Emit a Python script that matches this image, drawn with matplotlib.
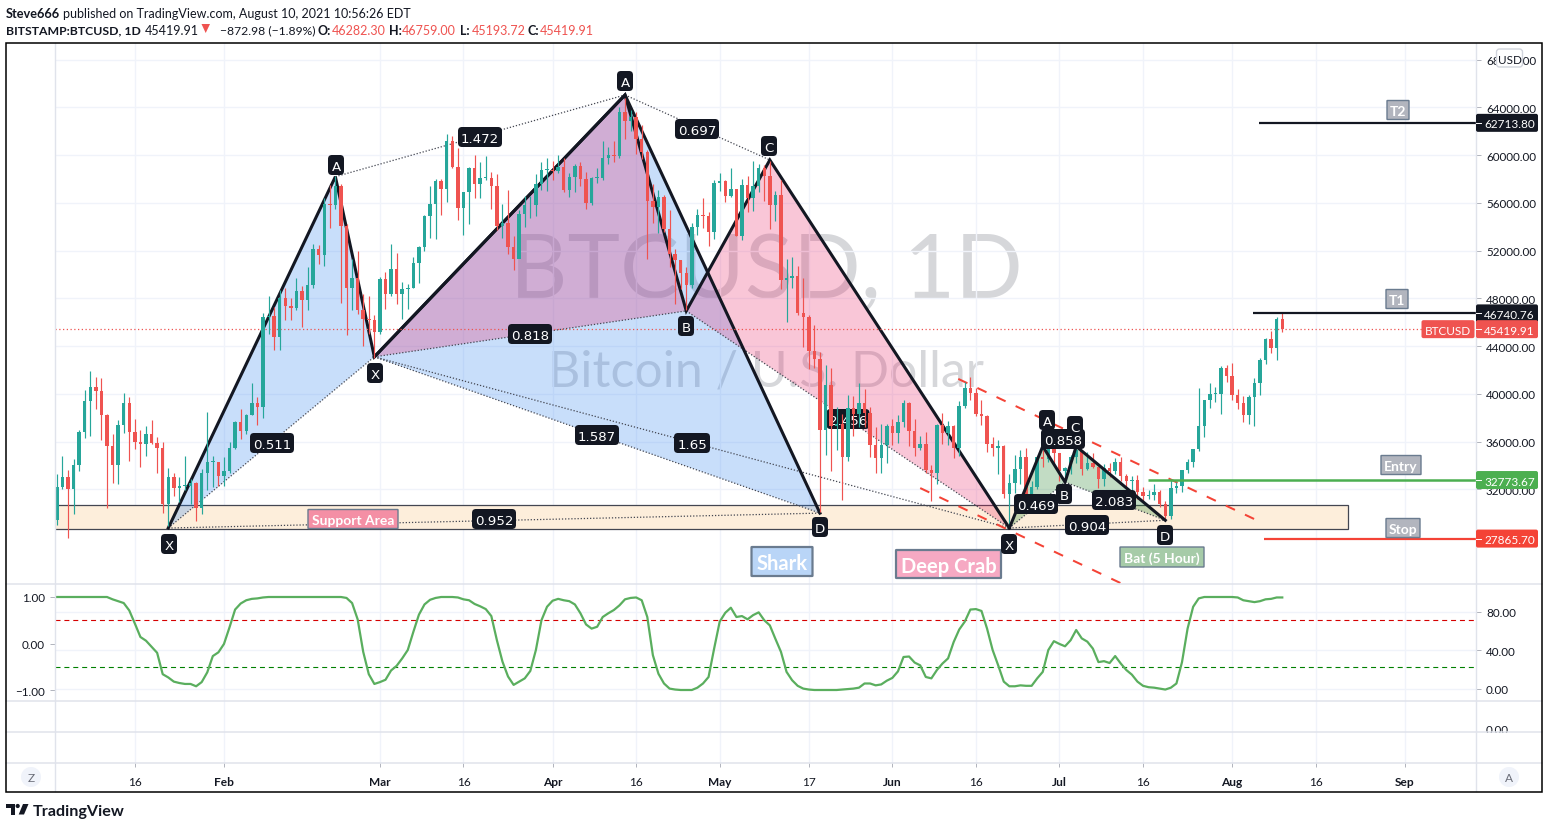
import numpy as np
import pandas as pd
import matplotlib
matplotlib.use("Agg")
import matplotlib.pyplot as plt
import matplotlib.dates as mdates
from matplotlib.patches import FancyBboxPatch, Rectangle, Polygon, Circle

W, H = 1549, 829
FONT = "Lato"
MONO = "DejaVu Sans"
plt.rcParams["font.family"] = FONT

# ---------------- data (thousands of USD) ----------------
first_date = "2021-01-02"
first_open = 29.4
closes = [
 32.2,33.0,32.0,34.0,36.8,39.4,40.6,40.2,38.2,35.6,34.0,37.4,39.2,36.8,36.0,35.8,36.6,35.9,35.5,30.8,33.0,32.1,32.3,32.3,32.5,30.4,33.4,34.3,34.3,33.1,
 33.5,35.5,37.6,36.9,38.2,39.2,38.9,46.4,46.5,44.8,48.0,47.4,47.2,48.6,47.9,49.1,52.1,51.6,55.9,55.8,57.4,54.1,48.9,49.7,47.0,46.3,46.2,45.2,
 49.6,48.4,50.5,48.4,48.8,48.9,51.0,52.3,54.9,55.9,57.8,57.2,61.2,59.0,55.6,56.9,58.9,57.6,58.1,58.1,57.4,54.1,54.3,52.3,51.3,55.1,55.8,55.8,57.6,58.8,58.8,
 58.7,59.0,57.1,58.2,59.1,58.0,56.0,58.1,58.1,59.8,60.0,59.9,63.6,62.9,63.2,61.4,60.3,56.2,55.7,56.5,53.8,51.7,51.2,50.1,49.1,54.0,55.0,54.9,53.6,57.7,
 57.8,56.6,57.2,53.2,57.5,56.4,57.4,58.9,58.3,55.8,56.7,49.5,49.7,49.9,46.8,46.4,43.6,42.9,37.0,40.7,37.3,37.5,34.7,38.8,38.3,39.2,38.4,35.7,34.6,35.7,37.3,
 36.7,37.6,39.2,36.9,35.5,35.8,33.6,33.4,37.4,36.7,37.3,35.5,39.0,40.5,40.1,38.3,38.1,35.8,35.5,35.6,31.6,32.5,33.7,34.7,31.6,32.2,34.7,34.5,35.9,35.0,
 33.5,33.8,34.7,35.3,33.7,34.2,33.9,32.9,33.8,33.5,34.3,33.1,32.7,32.8,31.8,31.4,31.5,31.8,30.8,29.8,32.1,32.3,33.6,34.3,35.4,37.3,39.5,40.0,40.0,42.2,41.5,
 39.9,39.2,38.2,39.7,40.9,42.8,44.6,43.8,46.3,45.42]
highs = [
 33.3,34.8,33.6,34.5,37.0,40.3,41.9,41.4,41.3,38.3,36.6,37.8,40.1,39.7,37.9,37.0,37.3,37.8,36.4,36.0,33.8,33.4,33.0,34.8,32.9,32.6,33.7,38.5,34.8,34.3,
 34.7,36.0,37.7,38.7,38.3,40.9,39.7,46.8,48.2,47.3,48.7,48.9,48.0,49.7,49.0,50.6,52.6,52.5,56.4,57.5,58.3,57.6,54.2,51.3,52.0,48.4,48.2,46.6,
 49.8,50.2,52.6,51.8,49.4,49.2,51.5,52.4,55.0,57.4,58.0,58.0,61.8,61.6,60.6,56.9,59.0,60.0,59.4,59.9,58.6,58.4,55.9,57.1,53.2,55.4,56.6,56.6,58.4,59.4,59.8,
 59.5,60.0,59.8,58.5,59.3,59.4,58.6,58.2,58.9,61.2,60.7,61.2,64.0,64.8,63.8,63.6,62.5,60.4,57.6,57.1,56.7,55.4,52.1,51.2,50.6,54.3,55.5,56.4,55.2,57.9,
 58.5,57.9,58.9,57.2,58.0,58.3,59.5,59.3,59.2,59.5,57.0,57.9,51.3,51.5,50.7,49.7,46.6,45.8,43.5,42.4,42.2,38.9,38.3,39.9,39.8,40.9,40.4,38.9,37.2,37.5,37.5,
 37.9,38.2,39.5,39.3,37.9,36.5,36.8,34.0,37.5,38.4,37.7,37.4,39.4,41.0,41.4,40.5,39.5,38.2,36.4,36.1,35.7,33.3,34.9,35.3,35.5,32.7,34.7,35.3,36.6,36.0,
 35.0,33.9,34.9,35.9,35.3,35.1,35.0,33.9,34.1,34.2,34.6,34.7,33.3,33.1,33.2,32.2,31.9,32.4,31.9,31.0,32.8,32.6,33.6,34.5,35.4,40.5,39.5,40.9,40.6,42.3,42.4,
 42.6,40.4,39.8,39.9,41.3,43.0,44.7,45.3,46.4,46.76]
lows = [
 29.0,32.0,27.9,29.9,33.5,36.3,36.5,38.7,36.1,30.4,32.5,32.4,36.7,34.4,35.4,33.9,34.8,35.8,33.4,30.0,28.9,31.4,30.9,31.9,30.8,29.3,29.9,31.9,32.2,32.3,
 32.3,33.4,35.4,36.2,36.6,38.2,37.4,38.0,45.0,43.7,43.7,46.2,46.2,47.0,45.6,47.0,48.9,50.9,50.7,53.9,55.5,47.6,44.9,47.0,46.7,44.0,45.0,43.0,
 45.0,47.1,48.2,47.5,46.3,47.1,48.9,49.3,52.0,53.1,53.0,55.0,56.1,58.9,54.6,53.3,54.2,56.4,56.4,57.9,55.5,53.7,53.1,51.7,50.4,51.4,54.0,54.7,54.9,57.1,57.0,
 57.9,58.5,56.9,56.5,56.9,57.4,55.5,55.8,57.7,57.9,59.3,59.4,59.8,61.4,62.0,60.1,59.7,51.3,54.3,53.5,53.6,50.6,47.5,48.8,47.0,48.9,53.3,53.9,52.4,53.0,
 57.0,56.1,56.5,53.2,52.9,55.2,55.3,56.9,56.2,53.8,54.5,48.8,46.0,48.9,46.6,43.9,42.1,42.2,30.1,34.9,33.5,35.3,31.1,34.4,36.5,37.2,37.2,34.7,33.4,33.4,34.2,
 35.7,35.9,37.2,35.6,34.8,35.3,33.4,31.0,32.4,35.8,35.7,34.6,34.8,38.8,39.5,38.1,37.4,35.1,34.8,33.3,31.3,28.8,31.7,32.4,31.3,30.2,32.0,33.9,34.3,34.0,
 32.7,32.7,33.3,34.2,33.2,33.6,33.8,32.1,32.3,33.0,33.3,32.7,32.2,31.6,31.2,31.0,31.2,31.1,30.5,29.3,29.5,31.7,31.8,33.4,33.9,35.2,36.4,38.8,39.3,38.3,41.0,
 39.5,38.7,37.6,37.5,37.3,39.9,42.5,43.4,42.8,45.2]
oscillator = [
 1.0,1.0,1.0,1.0,1.0,1.0,1.0,1.0,1.0,1.0,1.0,.95,.91,.87,.71,.43,.14,.06,-.07,-.2,-.66,-.73,-.82,-.85,-.87,-.87,-.92,-.83,-.62,-.27,-.19,
 -.01,.35,.73,.86,.93,.96,.97,.99,1.0,1.0,1.0,1.0,1.0,1.0,1.0,1.0,1.0,1.0,1.0,1.0,1.0,1.0,.98,.87,.52,-.18,-.66,-.87,
 -.83,-.78,-.58,-.48,-.32,-.14,.25,.62,.84,.94,.98,1.0,1.0,1.0,.99,.95,.93,.85,.8,.74,.59,.07,-.39,-.71,-.89,-.82,
 -.75,-.59,-.14,.50,.79,.92,.96,.93,.91,.84,.65,.41,.32,.36,.57,.65,.72,.82,.95,.98,.99,.93,.57,-.25,-.65,-.86,-.97,-.99,-1.0,-1.0,-1.0,
 -.95,-.86,-.72,-.11,.47,.66,.77,.57,.59,.52,.61,.67,.50,.39,.10,-.18,-.61,-.79,-.91,-.97,-.99,-1.0,-1.0,-1.0,-1.0,-1.0,-.99,-.98,-.97,-.95,
 -.86,-.86,-.90,-.88,-.80,-.74,-.60,-.29,-.28,-.41,-.47,-.72,-.75,-.57,-.43,-.32,.03,.30,.47,.73,.74,.70,.32,-.14,-.47,-.82,-.92,-.92,-.90,-.91,-.91,-.75,-.61,
 -.14,.05,-.01,-.06,.07,.29,.11,.04,-.11,-.40,-.38,-.42,-.27,-.43,-.57,-.67,-.82,-.91,-.94,-.95,-.97,-.99,-.95,-.86,-.40,.32,.79,.97,1.0,1.0,1.0,1.0,1.0,1.0,
 .99,.93,.91,.89,.91,.95,.96,.99,.99]

shark_dates = ["2021-01-22", "2021-02-21", "2021-02-28", "2021-04-14", "2021-05-19"]
shark_prices = [28.75, 58.2, 43.1, 65.05, 30.0]
crab_dates = ["2021-02-28", "2021-04-14", "2021-04-25", "2021-05-10", "2021-06-22"]
crab_prices = [43.1, 65.05, 46.95, 59.6, 28.75]
bat_dates = ["2021-06-22", "2021-06-28", "2021-07-02", "2021-07-04", "2021-07-20"]
bat_prices = [28.75, 35.6, 32.6, 35.6, 29.4]

support_low, support_high = 28.63, 30.72
support_dates = ["2020-12-20", "2021-08-21 20:00"]
upper_trend_dates = ["2021-06-12 20:00", "2021-08-05 16:00"]
upper_trend_prices = [41.25, 29.35]
lower_trend_dates = ["2021-06-06", "2021-08-01"]
lower_trend_prices = [32.1, 19.7]

last_price = 45419.91
t2_price, t1_price, entry_price, stop_price = 62713.80, 46740.76, 32773.67, 27865.70
t2_start, t1_start, entry_start, stop_start = "2021-08-05 20:00", "2021-08-04 16:00", "2021-07-16 22:00", "2021-08-06 16:00"

price_ticks = list(range(32000, 68001, 4000))
time_ticks = ["2021-01-16", "2021-02-01", "2021-03-01", "2021-03-16", "2021-04-01", "2021-04-16", "2021-05-01",
              "2021-05-17", "2021-06-01", "2021-06-16", "2021-07-01", "2021-07-16", "2021-08-01", "2021-08-16", "2021-09-01"]
time_labels = ["16", "Feb", "Mar", "16", "Apr", "16", "May", "17", "Jun", "16", "Jul", "16", "Aug", "16", "Sep"]
osc_left_ticks = [1.0, 0.0, -1.0]
osc_right_ticks = [80, 40, 0]

# ---------------- colours ----------------
UP, DOWN = "#26a69a", "#ef5350"
INK = "#131722"
GRID = "#f0f3fa"
SEP = "#e0e3eb"

d2n = lambda s: mdates.date2num(pd.to_datetime(s))
dates = pd.date_range(first_date, periods=len(closes), freq="D")
xs = mdates.date2num(dates)
c = np.array(closes) * 1000
h = np.array(highs) * 1000
l = np.array(lows) * 1000
o = np.r_[first_open * 1000, c[:-1]]

x0 = d2n("2021-01-01")
xlim = (x0 + (55 - 51.3) / 5.57, x0 + (1476 - 51.3) / 5.57)

fig = plt.figure(figsize=(W / 100, H / 100), dpi=100, facecolor="white")


def pane(x1, y1, x2, y2):
    return fig.add_axes([x1 / W, 1 - y2 / H, (x2 - x1) / W, (y2 - y1) / H])


ax = pane(55, 44, 1476, 585)
ax2 = pane(55, 585, 1476, 702)
ax3 = pane(55, 702, 1476, 733)
ax4 = pane(55, 733, 1476, 764)
ax5 = pane(55, 764, 1476, 792)
ov = fig.add_axes([0, 0, 1, 1], zorder=20)
ov.set_xlim(0, W)
ov.set_ylim(H, 0)
ov.axis("off")
ov.patch.set_alpha(0)
PX = ov.transData

for a in (ax, ax2, ax3, ax4, ax5):
    a.set_xlim(*xlim)
    for s in a.spines.values():
        s.set_visible(False)
    a.set_xticks([d2n(t) for t in time_ticks])
    a.grid(True, axis="x", color=GRID, lw=1)
    a.set_axisbelow(True)
    a.tick_params(axis="x", length=0, labelbottom=False)
    a.set_yticks([])

# ---------------- main pane ----------------
p_per_px = 1 / 0.01193
ax.set_ylim(64000 - (585 - 108.5) * p_per_px, 64000 + (108.5 - 44) * p_per_px)
ax.yaxis.tick_right()
ax.set_yticks(price_ticks)
ax.set_yticklabels([f"{t:.2f}" for t in price_ticks])
ax.grid(True, axis="y", color=GRID, lw=1)
ax.tick_params(axis="y", length=3.6, width=0.72, color="#b2b5be", pad=3.6, labelsize=8.4, labelcolor=INK)

ov_wm = dict(transform=PX, color="#787b86", alpha=0.3, ha="center", va="center", zorder=0.5, family=FONT)
ax.text(766, 273, "BTCUSD, 1D", fontsize=64, clip_on=False, **ov_wm)
ax.text(766, 372, "Bitcoin / U.S. Dollar", fontsize=36, clip_on=False, **ov_wm)

ax.add_patch(Rectangle((d2n(support_dates[0]), support_low * 1000),
                       d2n(support_dates[1]) - d2n(support_dates[0]), (support_high - support_low) * 1000,
                       fc="#fdeedb", ec="#434651", lw=0.9, zorder=1.2))


def draw_pattern(ds, ps, fill, alpha, lw=2.2, lzorder=2.2):
    px = [d2n(d) for d in ds]
    py = [p * 1000 for p in ps]
    ax.add_patch(Polygon(list(zip(px[:3], py[:3])), fc=fill, alpha=alpha, ec="none", zorder=1.5))
    ax.add_patch(Polygon(list(zip(px[2:], py[2:])), fc=fill, alpha=alpha, ec="none", zorder=1.5))
    ax.plot(px, py, color=INK, lw=lw, zorder=lzorder, solid_joinstyle="miter")
    for i, j in [(0, 2), (1, 3), (2, 4), (0, 4)]:
        ax.plot([px[i], px[j]], [py[i], py[j]], color="#434651", lw=0.9, ls=(0, (1, 1.5)), zorder=2.1)


draw_pattern(shark_dates, shark_prices, "#277fef", 0.25)
draw_pattern(crab_dates, crab_prices, "#e91e63", 0.25)
draw_pattern(bat_dates, bat_prices, "#388e3c", 0.30, lzorder=3.5)

# candles
cols = [UP if cc >= oo else DOWN for oo, cc in zip(o, c)]
ax.vlines(xs, l, h, colors=cols, lw=0.85, zorder=3)
ax.bar(xs, np.maximum(np.abs(c - o), 60), bottom=np.minimum(o, c), width=0.62, color=cols, lw=0, zorder=3)

# trend lines, levels
ax.plot([d2n(d) for d in upper_trend_dates], [p * 1000 for p in upper_trend_prices],
        color="#f44336", lw=1.45, ls=(0, (5, 5.5)), zorder=2.6)
ax.plot([d2n(d) for d in lower_trend_dates], [p * 1000 for p in lower_trend_prices],
        color="#f44336", lw=1.45, ls=(0, (5, 5.5)), zorder=2.6)
ax.axhline(last_price, color=DOWN, lw=0.9, ls=(0, (1, 2)), zorder=2.5)
for st, price, colr, lw in [(t2_start, t2_price, INK, 1.6), (t1_start, t1_price, INK, 1.6),
                            (entry_start, entry_price, "#4caf50", 1.8), (stop_start, stop_price, "#f44336", 1.6)]:
    ax.plot([d2n(st), xlim[1]], [price, price], color=colr, lw=lw, zorder=3.6, solid_capstyle="butt")


def box(cx, cy, w, hh, fc, text, fs, ec="none", lw=0, tc="white", weight="normal", family=FONT, r=3, z=6,
        target=ov, tx=None):
    p = FancyBboxPatch((cx - w / 2 + r, cy - hh / 2 + r), w - 2 * r, hh - 2 * r,
                       boxstyle=f"round,pad={r},rounding_size={r}", fc=fc, ec=ec, lw=lw, zorder=z,
                       transform=PX, clip_on=False)
    target.add_patch(p)
    target.text(cx if tx is None else tx, cy, text, color=tc, fontsize=fs, ha="center", va="center_baseline",
                weight=weight, family=family, zorder=z + 0.1, transform=PX, clip_on=False)


# pattern ratio labels
ratio_labels = [(272, 444, "0.511"), (480, 138, "1.472"), (597, 436, "1.587"), (494, 520, "0.952"),
                (530, 335, "0.818"), (697, 130, "0.697"), (692, 444, "1.65"),
                (1036, 505, "0.469"), (1063, 440, "0.858"), (1114, 501, "2.083"), (1087, 526, "0.904")]
for cx, cy, t in ratio_labels:
    w = 44 if len(t) == 5 else 36
    box(cx, cy, w, 20, INK, t, 9.6, family=MONO, target=ov if cx > 1000 else ax, z=4, r=4)
box(848, 420, 43, 20, INK, "2.456", 9.6, family=MONO, target=ax, z=2.4, r=4)

letter_labels = [(169, 545, "X"), (336, 166, "A"), (375, 374, "X"), (625, 82, "A"), (686, 327, "B"), (769, 147, "C"),
                 (820, 528, "D"), (1009, 545, "X"), (1047, 421, "A"), (1064, 495, "B"), (1075, 427, "C"), (1165, 536, "D")]
for cx, cy, t in letter_labels:
    box(cx, cy, 16, 20, INK, t, 9.6, family=MONO, z=7, r=4)

BORD = "#6a7b8f"
box(353, 520, 90, 19, "#f48fa5", "Support Area", 10, ec=BORD, lw=1, weight="bold", r=0.5)
box(782, 562.5, 61, 29, "#b9d5f7", "Shark", 14.5, ec=BORD, lw=1.6, weight="bold", r=0.5)
box(948.5, 565, 105, 28, "#f6a9c3", "Deep Crab", 14.5, ec=BORD, lw=1.6, weight="bold", r=0.5)
box(1162, 558, 84, 20, "#a6cba8", "Bat (5 Hour)", 10, ec=BORD, lw=1, weight="bold", r=0.5)
box(1398, 111, 22, 19, "#b2b5be", "T2", 10, ec=BORD, lw=1, weight="bold", r=0.5)
box(1397, 300, 22, 19, "#b2b5be", "T1", 10, ec=BORD, lw=1, weight="bold", r=0.5)
box(1401, 466, 40, 19, "#b2b5be", "Entry", 10, ec=BORD, lw=1, weight="bold", r=0.5)
box(1403, 529, 34, 19, "#b2b5be", "Stop", 10, ec=BORD, lw=1, weight="bold", r=0.5)


def y2px(price):
    return ov.transData.inverted().transform(ax.transData.transform((xlim[0], price)))[1]


# price tags
for price, fc in [(t2_price, INK), (t1_price, INK), (last_price, DOWN), (entry_price, "#4caf50"), (stop_price, "#f44336")]:
    y = y2px(price)
    box(1507, y, 62, 18, fc, f"{price:.2f}", 8.5, r=2, z=8, tx=1509.5)
    ov.plot([1476, 1481], [y, y], color="white", lw=0.7, zorder=9)
box(1448, y2px(last_price), 53, 18, DOWN, "BTCUSD", 8.5, r=2, z=8)
box(1509.5, 59, 26, 18, "white", "USD", 8.4, ec="#d1d4dc", lw=1, tc=INK, r=3, z=9)

# ---------------- oscillator pane ----------------
ax2.set_ylim(1 - (702 - 598) / 46.5, 1 + (598 - 585) / 46.5)
ax2.set_yticks(osc_left_ticks)
ax2.set_yticklabels([f"{v:.2f}".replace("-", "\u2212") for v in osc_left_ticks])
ax2.tick_params(axis="y", length=3.6, width=0.72, color="#b2b5be", pad=3.6, labelsize=8.4, labelcolor=INK)
ax2r = ax2.twinx()
for s in ax2r.spines.values():
    s.set_visible(False)
ax2r.set_ylim(-(702 - 689.5) / 0.9625, 80 + (612.5 - 585) / 0.9625)
ax2r.set_yticks(osc_right_ticks)
ax2r.set_yticklabels([f"{v:.2f}" for v in osc_right_ticks])
ax2r.grid(True, axis="y", color=GRID, lw=1)
ax2r.set_axisbelow(True)
ax2r.tick_params(axis="y", length=3.6, width=0.72, color="#b2b5be", pad=3.6, labelsize=8.4, labelcolor=INK)
ax2.axhline(0.5, color="#d50000", lw=0.8, ls=(0, (4.5, 3.5)), zorder=3)
ax2.axhline(-0.5, color="#008000", lw=0.8, ls=(0, (4.5, 3.5)), zorder=3)
osc_x = mdates.date2num(pd.date_range("2021-01-01", periods=len(oscillator), freq="D"))
ax2.set_zorder(ax2r.get_zorder() + 1)
ax2.patch.set_alpha(0)
ax2.plot(osc_x, oscillator, color="#5aae5e", lw=1.6, zorder=4)

# ---------------- time axis ----------------
ax5.xaxis.tick_top()
ax5.set_xticks([d2n(t) for t in time_ticks])
ax5.set_xticklabels(time_labels)
ax5.grid(False)
ax5.tick_params(axis="x", direction="in", length=3, width=0.72, color="#b2b5be", pad=-17, labelsize=8.6,
                labelcolor=INK, labeltop=True, labelbottom=False)
for lab, txt in zip(ax5.get_xticklabels(), time_labels):
    if not txt.isdigit():
        lab.set_fontweight("bold")

# ---------------- chrome ----------------
for y in (585, 702, 733, 764):
    ov.plot([6.5, 1542.5], [y, y], color=SEP, lw=1.1, zorder=3)
ov.plot([55, 55], [44, 792], color=SEP, lw=1, zorder=3)
ov.plot([1476, 1476], [44, 792], color=SEP, lw=1, zorder=3)
ov.text(1486, 731, "0.00", color=INK, fontsize=8.4, va="center", ha="left", zorder=2)
ov.add_patch(Rectangle((1477, 733.5), 60, 8, fc="white", ec="none", zorder=2.5))
ov.add_patch(Rectangle((6.5, 43.5), 1536, 749, fc="none", ec="#000000", lw=1.1, zorder=10))
ov.add_patch(Circle((31, 778), 10, fc="#f0f3fa", ec="none", zorder=4))
ov.text(31, 778, "Z", color="#6a6d78", fontsize=8.6, ha="center", va="center_baseline", zorder=5)
ov.add_patch(Circle((1509, 778), 10, fc="#f0f3fa", ec="none", zorder=4))
ov.text(1509, 778, "A", color="#6a6d78", fontsize=8.6, ha="center", va="center_baseline", zorder=5)


# header
def t(x, y, s, color=INK, weight="normal", fs=9.0):
    ov.text(x, y, s, color=color, fontsize=fs, weight=weight, ha="left", va="center_baseline", zorder=12)


t(6, 12.5, "Steve666", weight="bold", fs=9.2)
t(63, 12.5, "published on TradingView.com, August 10, 2021 10:56:26 EDT")
t(6, 29.5, "BITSTAMP:BTCUSD, 1D", weight="bold", fs=8.85)
t(145, 29.5, "45419.91", fs=9.0)
ov.add_patch(Polygon([(201.5, 25), (210, 25), (205.7, 34)], fc=DOWN, ec="none", zorder=12))
t(220, 29.5, "\u2212872.98 (\u22121.89%)", fs=8.7)
for x, s in [(318, "O:"), (389, "H:"), (460, "L:"), (528, "C:")]:
    t(x, 29.5, s, weight="bold", fs=9.0)
for x, s in [(332, "46282.30"), (402, "46759.00"), (472, "45193.72"), (540, "45419.91")]:
    t(x, 29.5, s, color=DOWN, fs=9.0)

# footer logo
ov.add_patch(Polygon([(6, 805), (15, 805), (15, 815.5), (11, 815.5), (11, 809), (6, 809)], fc=INK, ec="none"))
ov.add_patch(Circle((17.7, 807), 2.1, fc=INK, ec="none"))
ov.add_patch(Polygon([(23, 805), (28.5, 805), (24, 815.5), (18.7, 815.5)], fc=INK, ec="none"))
ov.text(33, 810.5, "TradingView", color=INK, fontsize=11.6, weight="bold", ha="left", va="center_baseline")

fig.savefig("out.png", dpi=100, facecolor="white")
